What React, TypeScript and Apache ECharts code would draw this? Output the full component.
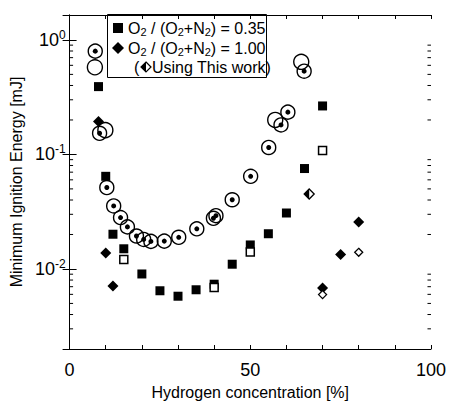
import React, { useEffect, useRef } from "react";
import * as echarts from "echarts";

// O2/(O2+N2) = 0.35, filled squares
const sq035: [number, number][] = [
  [8, 0.391], [10, 0.0644], [12, 0.0201], [15, 0.015], [20, 0.00904], [25, 0.00645],
  [30, 0.00578], [35, 0.00658], [40, 0.00736], [45, 0.011], [50, 0.0162], [55, 0.0203],
  [60, 0.0308], [65, 0.0753], [70, 0.265],
];
// O2/(O2+N2) = 0.35, using this work (open squares)
const sq035This: [number, number][] = [
  [15, 0.0121], [40, 0.00689], [50, 0.01406], [70, 0.108],
];
// O2/(O2+N2) = 1.00, filled diamonds
const dia100: [number, number][] = [
  [8, 0.194], [10, 0.01378], [12, 0.00711], [70, 0.00681], [75, 0.01334], [80, 0.0257],
];
// O2/(O2+N2) = 1.00, using this work (open diamonds)
const dia100This: [number, number][] = [
  [70, 0.00597], [80, 0.01397],
];
// half-filled diamond
const diaHalf: [number, number][] = [[66.3, 0.0451]];
// dotted circles
const dotCircles: [number, number][] = [
  [7.1, 0.798], [8.3, 0.153], [10.3, 0.0514], [12.2, 0.0355], [14.1, 0.0281], [16, 0.0233],
  [18.5, 0.0194], [20.5, 0.0181], [22.5, 0.0174], [26.2, 0.0175], [30.2, 0.0189], [35.2, 0.0224],
  [39.8, 0.0277], [40.5, 0.0292], [45, 0.0402], [50.1, 0.0644], [55.1, 0.115], [58.5, 0.181],
  [60.4, 0.234], [64.9, 0.533],
];
// open circles
const openCircles: [number, number][] = [
  [7.0, 0.577], [9.9, 0.163], [56.9, 0.2], [64.1, 0.644],
];
// minor tick values on the log axis
const minorTickValues: number[] = [];
[0.001, 0.01, 0.1, 1].forEach((d) => {
  [2, 3, 4, 5, 6, 7, 8, 9].forEach((m) => minorTickValues.push(+(d * m).toPrecision(3)));
});
const xLabels = [0, 50, 100];

const FONT = "Liberation Sans, Arial, Helvetica, sans-serif";

export default function App() {
  const ref = useRef<HTMLDivElement>(null);
  useEffect(() => {
    if (!ref.current) return;
    const chart = echarts.init(ref.current, undefined, { renderer: "svg" });
    const Y_MIN = 0.002;
    const Y_MAX = 1.65;
    const yLabelFmt = (v: number) => {
      const e = Math.log10(v);
      if (Math.abs(e - Math.round(e)) < 1e-6) {
        return "{b|10}{s|" + Math.round(e) + "}";
      }
      return "";
    };
    const baseX = {
      type: "value",
      min: 0,
      max: 100,
      interval: 10,
      splitLine: { show: false },
      axisLine: { show: true, lineStyle: { color: "#000", width: 1 } },
      axisTick: { show: true, inside: true, length: 4, lineStyle: { color: "#000" } },
    };
    const baseY = {
      type: "log",
      logBase: 10,
      min: Y_MIN,
      max: Y_MAX,
      splitLine: { show: false },
      axisLine: { show: true, lineStyle: { color: "#000", width: 1 } },
      axisTick: { show: true, inside: true, length: 7, lineStyle: { color: "#000" } },
    };
    const minorData = minorTickValues
      .filter((v) => v > Y_MIN && v < Y_MAX)
      .map((v) => [0, v]);
    const subRich = { sub: { fontFamily: FONT, fontSize: 11, fill: "#000", padding: [7, 0, 0, 0] } };
    chart.setOption({
      animation: false,
      grid: { left: 63, right: 16, top: 15, bottom: 46 },
      xAxis: [
        {
          ...baseX,
          position: "bottom",
          name: "Hydrogen concentration [%]",
          nameLocation: "middle",
          nameGap: 35,
          nameTextStyle: { fontFamily: FONT, fontSize: 16, color: "#000" },
          axisLabel: {
            show: true,
            margin: 12,
            fontFamily: FONT,
            fontSize: 18,
            color: "#000",
            formatter: (v: number) => (xLabels.indexOf(v) >= 0 ? String(v) : ""),
          },
        },
        { ...baseX, position: "top", axisLabel: { show: false } },
      ],
      yAxis: [
        {
          ...baseY,
          position: "left",
          name: "Minimum Ignition Energy [mJ]",
          nameLocation: "middle",
          nameGap: 40,
          nameTextStyle: { fontFamily: FONT, fontSize: 16, color: "#000" },
          axisLabel: {
            show: true,
            margin: 4,
            formatter: yLabelFmt,
            rich: {
              b: { fontFamily: FONT, fontSize: 18, color: "#000" },
              s: { fontFamily: FONT, fontSize: 12, color: "#000", padding: [0, 0, 10, 0] },
            },
          },
        },
        { ...baseY, position: "right", axisLabel: { show: false } },
      ],
      graphic: [
        {
          type: "group",
          z: 100,
          children: [
            { type: "rect", shape: { x: 107.5, y: 14.5, width: 159, height: 63 }, style: { fill: "#fff", stroke: "#000", lineWidth: 1 } },
            { type: "rect", shape: { x: 113, y: 23, width: 10, height: 10 }, style: { fill: "#000" } },
            {
              type: "text", x: 128, y: 28,
              style: {
                text: "O{sub|2} / (O{sub|2}+N{sub|2}) = 0.35",
                fontFamily: FONT, fontSize: 16, fill: "#000", verticalAlign: "middle",
                rich: subRich,
              },
            },
            { type: "polygon", shape: { points: [[118, 42], [124, 48], [118, 54], [112, 48]] }, style: { fill: "#000" } },
            {
              type: "text", x: 128, y: 48,
              style: {
                text: "O{sub|2} / (O{sub|2}+N{sub|2}) = 1.00",
                fontFamily: FONT, fontSize: 16, fill: "#000", verticalAlign: "middle",
                rich: subRich,
              },
            },
            {
              type: "text", x: 134, y: 67,
              style: { text: "(", fontFamily: FONT, fontSize: 16, fill: "#000", verticalAlign: "middle" },
            },
            { type: "polygon", shape: { points: [[146, 62], [141, 67], [146, 72]] }, style: { fill: "#000" } },
            { type: "polygon", shape: { points: [[146, 62], [151, 67], [146, 72], [141, 67]] }, style: { fill: "none", stroke: "#000", lineWidth: 1.2 } },
            {
              type: "text", x: 152, y: 67,
              style: { text: "Using This work)", fontFamily: FONT, fontSize: 16, fill: "#000", verticalAlign: "middle" },
            },
          ],
        },
      ],
      series: [
        {
          type: "custom",
          xAxisIndex: 0,
          yAxisIndex: 0,
          silent: true,
          data: minorData,
          renderItem: (params: any, api: any) => {
            const v = api.value(1);
            const p0 = api.coord([0, v]);
            const p1 = api.coord([100, v]);
            return {
              type: "group",
              children: [
                { type: "line", shape: { x1: p0[0], y1: p0[1], x2: p0[0] + 3.5, y2: p0[1] }, style: { stroke: "#000", lineWidth: 1 } },
                { type: "line", shape: { x1: p1[0], y1: p1[1], x2: p1[0] - 3.5, y2: p1[1] }, style: { stroke: "#000", lineWidth: 1 } },
              ],
            };
          },
        },
        {
          type: "scatter", data: openCircles, symbol: "circle", symbolSize: 15,
          itemStyle: { color: "rgba(0,0,0,0)", borderColor: "#000", borderWidth: 1.4, opacity: 1 }, z: 3,
        },
        {
          type: "scatter", data: dotCircles, symbol: "circle", symbolSize: 14,
          itemStyle: { color: "rgba(255,255,255,0)", borderColor: "#000", borderWidth: 1.4, opacity: 1 }, z: 3,
        },
        {
          type: "scatter", data: dotCircles, symbol: "circle", symbolSize: 5,
          itemStyle: { color: "#000", opacity: 1 }, z: 4,
        },
        {
          type: "scatter", data: sq035, symbol: "rect", symbolSize: 9,
          itemStyle: { color: "#000", opacity: 1 }, z: 5,
        },
        {
          type: "scatter", data: sq035This, symbol: "rect", symbolSize: 8,
          itemStyle: { color: "#fff", borderColor: "#000", borderWidth: 1.5, opacity: 1 }, z: 6,
        },
        {
          type: "scatter", data: dia100, symbol: "diamond", symbolSize: 11,
          itemStyle: { color: "#000", opacity: 1 }, z: 5,
        },
        {
          type: "scatter", data: dia100This, symbol: "diamond", symbolSize: 8,
          itemStyle: { color: "#fff", borderColor: "#000", borderWidth: 1.3, opacity: 1 }, z: 6,
        },
        {
          type: "scatter", data: diaHalf, symbol: "path://M5,0 L0,5 L5,10 Z", symbolSize: [5, 10],
          symbolOffset: [-2.5, 0], itemStyle: { color: "#000", opacity: 1 }, z: 6,
        },
        {
          type: "scatter", data: diaHalf, symbol: "diamond", symbolSize: 10,
          itemStyle: { color: "rgba(255,255,255,0)", borderColor: "#000", borderWidth: 1.3, opacity: 1 }, z: 7,
        },
      ],
    });
    return () => chart.dispose();
  }, []);
  return (
    <div
      ref={ref}
      style={{ position: "fixed", left: 0, top: 0, width: 449, height: 405, background: "#fff" }}
    />
  );
}
